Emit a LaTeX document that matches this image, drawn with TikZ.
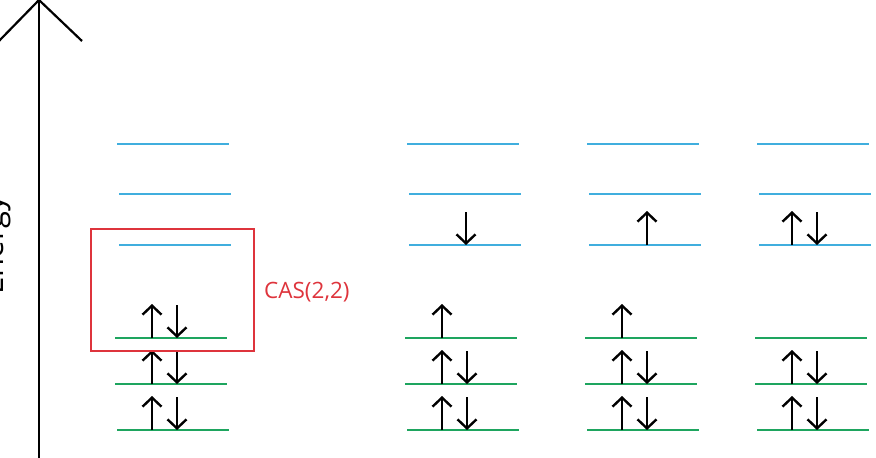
\documentclass[tikz,border=0pt]{standalone}
\usepackage{fontspec}
\setmainfont{Open Sans}
\usetikzlibrary{arrows.meta}
\definecolor{lvlblue}{RGB}{64,174,222}
\definecolor{lvlgreen}{RGB}{30,165,95}
\definecolor{casred}{RGB}{222,52,60}
\tikzset{
  lvlb/.style={draw=lvlblue, line width=2.5pt},
  lvlg/.style={draw=lvlgreen, line width=2.5pt},
  spin/.style={draw=black, line width=2.4pt, -{Straight Barb[length=9pt,width=19pt,line width=2.4pt]}},
  axisline/.style={draw=black, line width=2.2pt},
  casbox/.style={draw=casred, line width=2.4pt},
}
\begin{document}
\begin{tikzpicture}[x=1pt,y=-1pt]
\useasboundingbox (0,0) rectangle (876,458);
% energy axis
\coordinate (tip) at (39,0);
\coordinate (bot) at (39,458);
\coordinate (wl) at (-2,42);
\coordinate (wr) at (82,41);
\draw[axisline] (tip) -- (bot);
\draw[axisline, line join=miter] (wl) -- (tip) -- (wr);
\node[rotate=90, anchor=base, inner sep=0, font=\fontsize{31}{36}\selectfont] (elabel) at (4,245) {Energy};
% levels
\foreach \L [count=\i] in {115,405,585,755} {
  \draw[lvlb] (\L+2,144) -- (\L+114,144);
  \draw[lvlb] (\L+4,194) -- (\L+116,194);
  \draw[lvlb] (\L+4,245) -- (\L+116,245);
  \draw[lvlg] (\L,338) -- (\L+112,338);
  \draw[lvlg] (\L,384) -- (\L+112,384);
  \draw[lvlg] (\L+2,430) -- (\L+114,430);
}
% pairs at two lowest green levels in all columns
\foreach \L in {115,405,585,755} {
  \foreach \y in {384,430} {
    \draw[spin] (\L+37,\y) -- (\L+37,\y-34);
    \draw[spin] (\L+62,\y-33) -- (\L+62,\y);
  }
}
% column 1: pair at top green
\draw[spin] (152,338) -- (152,304);
\draw[spin] (177,305) -- (177,338);
% column 2
\draw[spin] (442,338) -- (442,304);
\draw[spin] (466,212) -- (466,245);
% column 3
\draw[spin] (622,338) -- (622,304);
\draw[spin] (647,245) -- (647,211);
% column 4
\draw[spin] (792,245) -- (792,211);
\draw[spin] (817,212) -- (817,245);
% CAS box
\draw[casbox] (91,229) rectangle (254,351);
\node[anchor=west, inner sep=0, text=casred, font=\fontsize{22.5}{27}\selectfont] (cas) at (264,292) {CAS(2,2)};
\end{tikzpicture}
\end{document}
